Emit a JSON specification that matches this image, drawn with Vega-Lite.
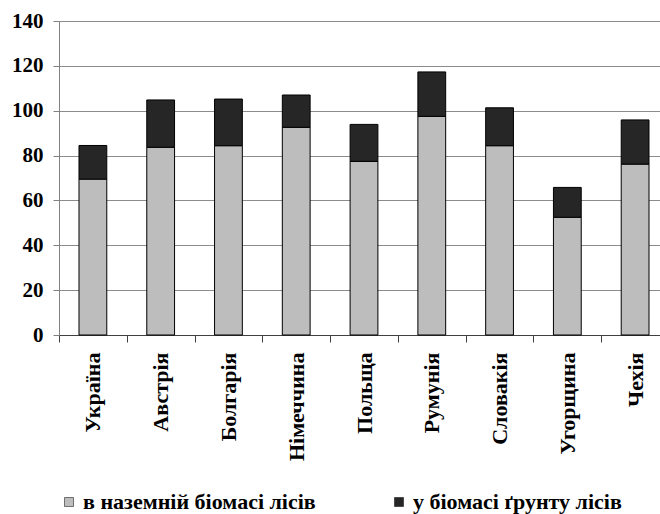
{
  "$schema": "https://vega.github.io/schema/vega-lite/v6.json",
  "width": 601,
  "height": 314,
  "autosize": {"type": "none"},
  "padding": {"left": 59, "top": 21, "right": 0, "bottom": 179},
  "background": "white",
  "data": {
    "values": [
      {"country": "Україна", "part": "в наземній біомасі лісів", "value": 69.5},
      {"country": "Україна", "part": "у біомасі ґрунту лісів", "value": 15.0},
      {"country": "Австрія", "part": "в наземній біомасі лісів", "value": 83.7},
      {"country": "Австрія", "part": "у біомасі ґрунту лісів", "value": 21.1},
      {"country": "Болгарія", "part": "в наземній біомасі лісів", "value": 84.4},
      {"country": "Болгарія", "part": "у біомасі ґрунту лісів", "value": 20.8},
      {"country": "Німеччина", "part": "в наземній біомасі лісів", "value": 92.6},
      {"country": "Німеччина", "part": "у біомасі ґрунту лісів", "value": 14.4},
      {"country": "Польща", "part": "в наземній біомасі лісів", "value": 77.4},
      {"country": "Польща", "part": "у біомасі ґрунту лісів", "value": 16.5},
      {"country": "Румунія", "part": "в наземній біомасі лісів", "value": 97.5},
      {"country": "Румунія", "part": "у біомасі ґрунту лісів", "value": 19.8},
      {"country": "Словакія", "part": "в наземній біомасі лісів", "value": 84.4},
      {"country": "Словакія", "part": "у біомасі ґрунту лісів", "value": 16.9},
      {"country": "Угорщина", "part": "в наземній біомасі лісів", "value": 52.5},
      {"country": "Угорщина", "part": "у біомасі ґрунту лісів", "value": 13.3},
      {"country": "Чехія", "part": "в наземній біомасі лісів", "value": 76.2},
      {"country": "Чехія", "part": "у біомасі ґрунту лісів", "value": 19.7}
    ]
  },
  "mark": {"type": "bar", "width": {"band": 0.41}, "stroke": "#000000", "strokeWidth": 1},
  "encoding": {
    "x": {
      "field": "country",
      "type": "nominal",
      "sort": null,
      "scale": {"paddingInner": 0, "paddingOuter": 0, "range": [0, 610]},
      "axis": {
        "title": null,
        "labelAngle": -90,
        "labelAlign": "right",
        "labelBaseline": "middle",
        "labelFont": "Liberation Serif",
        "labelFontWeight": "bold",
        "labelFontSize": 22,
        "labelColor": "#000000",
        "labelPadding": 10,
        "tickBand": "extent",
        "tickSize": 7,
        "tickColor": "#404040",
        "domainColor": "#404040",
        "grid": false
      }
    },
    "y": {
      "field": "value",
      "type": "quantitative",
      "stack": "zero",
      "scale": {"domain": [0, 140], "nice": false},
      "axis": {
        "title": null,
        "values": [0, 20, 40, 60, 80, 100, 120, 140],
        "labelFont": "Liberation Serif",
        "labelFontWeight": "bold",
        "labelFontSize": 21,
        "labelColor": "#000000",
        "labelPadding": 10,
        "tickSize": 6,
        "tickColor": "#808080",
        "domainColor": "#808080",
        "grid": true,
        "gridColor": "#8c8c8c",
        "gridOpacity": 1
      }
    },
    "color": {
      "field": "part",
      "type": "nominal",
      "scale": {
        "domain": ["в наземній біомасі лісів", "у біомасі ґрунту лісів"],
        "range": ["#bdbdbd", "#262626"]
      },
      "legend": {
        "title": null,
        "orient": "none",
        "direction": "horizontal",
        "legendX": -1,
        "legendY": 470,
        "symbolType": "square",
        "symbolSize": 81,
        "symbolStrokeColor": "#000000",
        "symbolStrokeWidth": 0.5,
        "symbolOpacity": 1,
        "labelFont": "Liberation Serif",
        "labelFontWeight": "bold",
        "labelFontSize": 22,
        "labelColor": "#000000",
        "labelLimit": 400,
        "labelOffset": 3,
        "columnPadding": 72
      }
    },
    "order": {"field": "part", "sort": "ascending"}
  },
  "config": {
    "view": {"stroke": null},
    "axis": {"domainWidth": 1, "tickWidth": 1, "gridWidth": 1}
  }
}
